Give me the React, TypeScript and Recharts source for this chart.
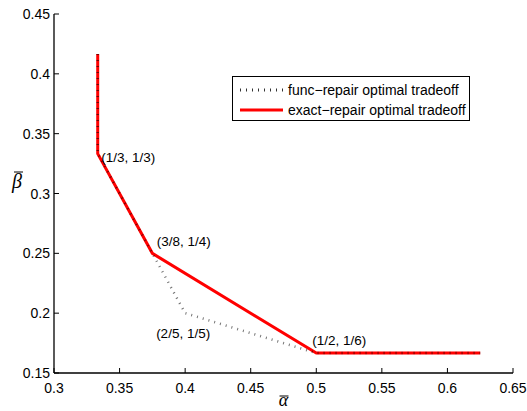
import React from 'react';
import { LineChart, Line, XAxis, YAxis, Legend, ReferenceDot, Label } from 'recharts';

// ---- data ----
const funcAlpha = [1 / 3, 1 / 3, 3 / 8, 2 / 5, 1 / 2, 5 / 8];
const funcBeta = [5 / 12, 1 / 3, 1 / 4, 1 / 5, 1 / 6, 1 / 6];
const exactAlpha = [1 / 3, 1 / 3, 3 / 8, 1 / 2, 5 / 8];
const exactBeta = [5 / 12, 1 / 3, 1 / 4, 1 / 6, 1 / 6];
const xTicks = [0.3, 0.35, 0.4, 0.45, 0.5, 0.55, 0.6, 0.65];
const yTicks = [0.15, 0.2, 0.25, 0.3, 0.35, 0.4, 0.45];
const cornerAlpha = [1 / 3, 3 / 8, 2 / 5, 1 / 2];
const cornerBeta = [1 / 3, 1 / 4, 1 / 5, 1 / 6];
const cornerLabels = ['(1/3, 1/3)', '(3/8, 1/4)', '(2/5, 1/5)', '(1/2, 1/6)'];
const seriesNames = ['func\u2212repair optimal tradeoff', 'exact\u2212repair optimal tradeoff'];

const funcData = funcAlpha.map((a, i) => ({ alpha: a, beta: funcBeta[i] }));
const exactData = exactAlpha.map((a, i) => ({ alpha: a, beta: exactBeta[i] }));

// ---- styling ----
const SANS = '"Liberation Sans", Arial, Helvetica, sans-serif';
const SERIF = '"Liberation Serif", "DejaVu Serif", serif';
const labelOffsets = [
  { dx: 3.5, dy: 8, anchor: 'start' },
  { dx: 4.5, dy: -7, anchor: 'start' },
  { dx: -2, dy: 25, anchor: 'middle' },
  { dx: -4, dy: -8, anchor: 'start' },
];
const fmt = (v: number) => String(+Number(v).toFixed(2));

const BottomTick = (p: any) => (
  <g>
    <line x1={p.x} x2={p.x} y1={p.y} y2={p.y - 5} stroke="#000" strokeWidth={1} />
    <text x={p.x} y={p.y + 20} textAnchor="middle" fontFamily={SANS} fontSize={14} fill="#000">
      {fmt(p.payload.value)}
    </text>
  </g>
);
const TopTick = (p: any) => (
  <line x1={p.x} x2={p.x} y1={p.y} y2={p.y + 5} stroke="#000" strokeWidth={1} />
);
const LeftTick = (p: any) => (
  <g>
    <line x1={p.x} x2={p.x + 5} y1={p.y} y2={p.y} stroke="#000" strokeWidth={1} />
    <text x={p.x - 4} y={p.y + 5} textAnchor="end" fontFamily={SANS} fontSize={14} fill="#000">
      {fmt(p.payload.value)}
    </text>
  </g>
);
const RightTick = (p: any) => (
  <line x1={p.x} x2={p.x - 5} y1={p.y} y2={p.y} stroke="#000" strokeWidth={1} />
);

const LegendBox = () => (
  <div
    style={{
      border: '1px solid #000',
      background: '#fff',
      width: 236,
      height: 43,
      position: 'relative',
    }}
  >
    <svg width={236} height={43} style={{ position: 'absolute', left: 0, top: 0 }}>
      <line x1={7} x2={50} y1={13} y2={13} stroke="#000" strokeWidth={3} strokeDasharray="1 5" strokeOpacity={0.8} />
      <line x1={7} x2={50} y1={33} y2={33} stroke="#ff0000" strokeWidth={3} />
      <text x={55} y={18} fontFamily={SANS} fontSize={14} fill="#000">{seriesNames[0]}</text>
      <text x={55} y={38} fontFamily={SANS} fontSize={14} fill="#000">{seriesNames[1]}</text>
    </svg>
  </div>
);

const makeCornerLabel = (i: number) => (props: any) => {
  const vb = props.viewBox || {};
  const cx = vb.x + (vb.width || 0) / 2;
  const cy = vb.y + (vb.height || 0) / 2;
  const o = labelOffsets[i];
  return (
    <text x={cx + o.dx} y={cy + o.dy} textAnchor={o.anchor as any} fontFamily={SANS} fontSize={13.5} fill="#000">
      {cornerLabels[i]}
    </text>
  );
};

const BarredSymbol = ({ x, y, ch, barY, barX1, barX2, size }: any) => (
  <g>
    <text x={x} y={y} textAnchor="middle" fontFamily={SERIF} fontStyle="italic" fontSize={size} fill="#000">
      {ch}
    </text>
    <line x1={x + barX1} x2={x + barX2} y1={y + barY} y2={y + barY} stroke="#000" strokeWidth={1} />
  </g>
);

export default function App() {
  return (
    <div style={{ position: 'absolute', left: 0, top: 0, background: '#fff' }}>
      <LineChart width={527} height={411} margin={{ top: 14, right: 14, left: 0, bottom: 0 }}>
        <XAxis
          dataKey="alpha"
          type="number"
          domain={[0.3, 0.65]}
          ticks={xTicks}
          interval={0}
          allowDataOverflow
          height={38}
          tickSize={0}
          tickMargin={0}
          tickLine={false}
          axisLine={{ stroke: '#000', strokeWidth: 1.3 }}
          tick={BottomTick}
        >
          <Label
            content={(props: any) => {
              const vb = props.viewBox;
              return (
                <BarredSymbol x={vb.x + vb.width / 2} y={vb.y + 33} size={18} ch={'\u03B1'} barY={-10} barX1={-4} barX2={5} />
              );
            }}
          />
        </XAxis>
        <XAxis
          xAxisId="top"
          orientation="top"
          type="number"
          domain={[0.3, 0.65]}
          ticks={xTicks}
          interval={0}
          allowDataOverflow
          height={0}
          tickSize={0}
          tickMargin={0}
          tickLine={false}
          axisLine={{ stroke: '#000', strokeWidth: 1 }}
          tick={TopTick}
        />
        <YAxis
          type="number"
          domain={[0.15, 0.45]}
          ticks={yTicks}
          interval={0}
          allowDataOverflow
          width={54}
          tickSize={0}
          tickMargin={0}
          tickLine={false}
          axisLine={{ stroke: '#000', strokeWidth: 1.3 }}
          tick={LeftTick}
        >
          <Label
            content={(props: any) => {
              const vb = props.viewBox;
              return (
                <BarredSymbol x={vb.x + 17} y={vb.y + 174} size={20} ch={'\u03B2'} barY={-16} barX1={-3} barX2={6} />
              );
            }}
          />
        </YAxis>
        <YAxis
          yAxisId="right"
          orientation="right"
          type="number"
          domain={[0.15, 0.45]}
          ticks={yTicks}
          interval={0}
          allowDataOverflow
          width={0}
          tickSize={0}
          tickMargin={0}
          tickLine={false}
          axisLine={{ stroke: '#222', strokeWidth: 1.6 }}
          tick={RightTick}
        />
        <Line
          data={exactData}
          dataKey="beta"
          name={seriesNames[1]}
          stroke="#ff0000"
          strokeWidth={3}
          dot={false}
          isAnimationActive={false}
        />
        <Line
          data={funcData}
          dataKey="beta"
          name={seriesNames[0]}
          stroke="#000"
          strokeOpacity={0.55}
          strokeWidth={2.5}
          strokeDasharray="1 5"
          dot={false}
          isAnimationActive={false}
        />
        {cornerAlpha.map((a, i) => (
          <ReferenceDot
            key={i}
            x={a}
            y={cornerBeta[i]}
            r={1}
            fill="none"
            stroke="none"
            label={makeCornerLabel(i)}
          />
        ))}
        <Legend
          layout="vertical"
          align="center"
          verticalAlign="middle"
          content={LegendBox}
          wrapperStyle={{ left: 232, top: 76, width: 238, height: 45 }}
        />
      </LineChart>
    </div>
  );
}
